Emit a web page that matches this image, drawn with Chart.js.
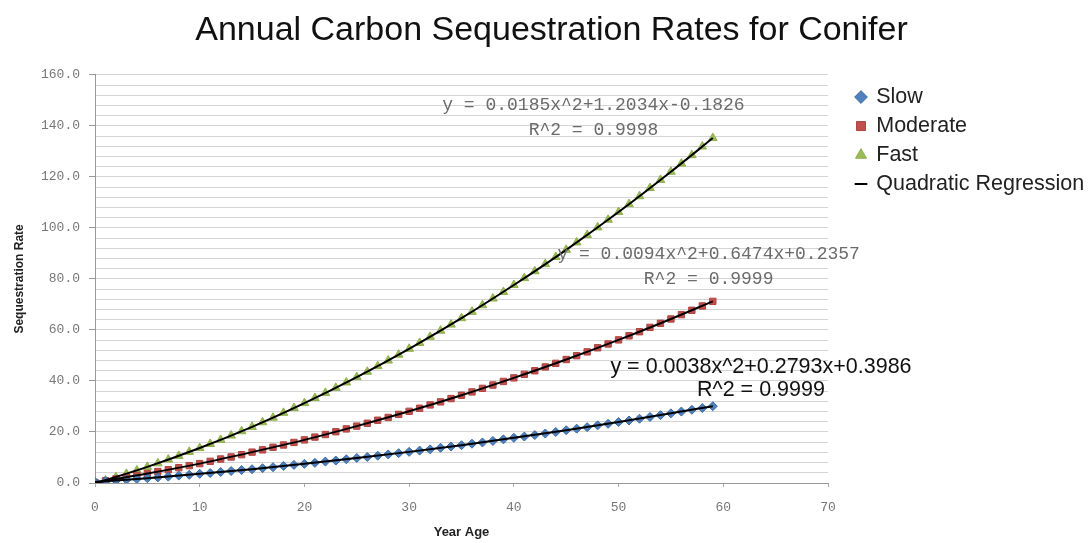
<!DOCTYPE html>
<html lang="en">
<head>
  <meta charset="UTF-8">
  <title>Annual Carbon Sequestration Rates for Conifer</title>
  <script src="https://cdn.jsdelivr.net/npm/chart.js"></script>
  <style>
    html, body { margin: 0; padding: 0; background: #fff; }
    #wrap { width: 1091px; height: 543px; }
  </style>
</head>
<body>
  <div id="wrap"><canvas id="carbonChart"></canvas></div>

  <script>
    // Year age of each sample
    const years = [0, 1, 2, 3, 4, 5, 6, 7, 8, 9, 10, 11, 12, 13, 14, 15, 16, 17, 18, 19,
      20, 21, 22, 23, 24, 25, 26, 27, 28, 29, 30, 31, 32, 33, 34, 35, 36, 37, 38, 39,
      40, 41, 42, 43, 44, 45, 46, 47, 48, 49, 50, 51, 52, 53, 54, 55, 56, 57, 58, 59];

    const slowRates = [0.4, 0.7, 1.0, 1.3, 1.6, 1.9, 2.2, 2.5, 2.9, 3.2,
      3.6, 3.9, 4.3, 4.7, 5.1, 5.4, 5.8, 6.2, 6.7, 7.1,
      7.5, 7.9, 8.4, 8.8, 9.3, 9.8, 10.2, 10.7, 11.2, 11.7,
      12.2, 12.7, 13.2, 13.8, 14.3, 14.8, 15.4, 15.9, 16.5, 17.1,
      17.7, 18.2, 18.8, 19.4, 20.0, 20.7, 21.3, 21.9, 22.6, 23.2,
      23.9, 24.5, 25.2, 25.9, 26.6, 27.3, 28.0, 28.7, 29.4, 30.1];

    const moderateRates = [0.2, 0.9, 1.6, 2.3, 3.0, 3.7, 4.5, 5.2, 6.0, 6.8,
      7.6, 8.5, 9.4, 10.2, 11.1, 12.1, 13.0, 14.0, 14.9, 15.9,
      16.9, 18.0, 19.0, 20.1, 21.2, 22.3, 23.4, 24.6, 25.7, 26.9,
      28.1, 29.3, 30.6, 31.8, 33.1, 34.4, 35.7, 37.1, 38.4, 39.8,
      41.2, 42.6, 44.0, 45.5, 46.9, 48.4, 49.9, 51.4, 53.0, 54.5,
      56.1, 57.7, 59.3, 61.0, 62.6, 64.3, 66.0, 67.7, 69.4, 71.2];

    const fastRates = [0.0, 1.0, 2.3, 3.6, 4.9, 6.3, 7.7, 9.2, 10.6, 12.2,
      13.7, 15.3, 16.9, 18.6, 20.3, 22.0, 23.8, 25.6, 27.5, 29.4,
      31.3, 33.3, 35.3, 37.3, 39.4, 41.5, 43.6, 45.8, 48.0, 50.3,
      52.6, 54.9, 57.3, 59.7, 62.1, 64.6, 67.1, 69.7, 72.3, 74.9,
      77.6, 80.3, 83.0, 85.8, 88.6, 91.4, 94.3, 97.2, 100.2, 103.2,
      106.2, 109.3, 112.4, 115.6, 118.8, 122.0, 125.2, 128.5, 131.9, 135.2];

    // Quadratic regression curves, sampled along the fit
    const fitYears = [0, 5, 10, 15, 20, 25, 30, 35, 40, 45, 50, 55, 59];
    const slowFit = [0.4, 1.9, 3.6, 5.4, 7.5, 9.8, 12.2, 14.8, 17.7, 20.7, 23.9, 27.3, 30.1];
    const moderateFit = [0.2, 3.7, 7.6, 12.1, 16.9, 22.3, 28.1, 34.4, 41.2, 48.4, 56.1, 64.3, 71.2];
    const fastFit = [-0.2, 6.3, 13.7, 22.0, 31.3, 41.5, 52.6, 64.6, 77.6, 91.4, 106.2, 122.0, 135.2];

    const yTickLabels = [0, 20, 40, 60, 80, 100, 120, 140, 160];

    const fitEquations = [
      ['y = 0.0185x^2+1.2034x-0.1826', 'R^2 = 0.9998'],
      ['y = 0.0094x^2+0.6474x+0.2357', 'R^2 = 0.9999'],
      ['y = 0.0038x^2+0.2793x+0.3986', 'R^2 = 0.9999']
    ];

    const toPoints = (xs, ys) => xs.map((x, i) => ({ x: x, y: ys[i] }));

    // where each equation sits (data units) and how it looks
    const eqPlacement = [
      { x: 47.6, y: 148.2, gap: 25, font: '18px "Liberation Mono"', color: '#6b6b6b' },
      { x: 58.6, y: 89.6, gap: 25, font: '18px "Liberation Mono"', color: '#6b6b6b' },
      { x: 63.6, y: 45.5, gap: 23, font: '21.5px "Liberation Sans"', color: '#111' }
    ];

    const equationLabels = {
      id: 'equationLabels',
      afterDatasetsDraw(chart) {
        const { ctx, scales } = chart;
        ctx.save();
        ctx.textAlign = 'center';
        ctx.textBaseline = 'middle';
        fitEquations.forEach((lines, i) => {
          const p = eqPlacement[i];
          const px = scales.x.getPixelForValue(p.x);
          const py = scales.y.getPixelForValue(p.y);
          ctx.font = p.font;
          ctx.fillStyle = p.color;
          lines.forEach((txt, j) => ctx.fillText(txt, px, py + j * p.gap));
        });
        ctx.restore();
      }
    };

    // fixed legend column, items pushed a bit away from the plot
    const legendBox = {
      id: 'legendBox',
      beforeLayout(chart) {
        const legend = chart.legend;
        if (legend && !legend._patched) {
          const fit = legend.fit;
          legend.fit = function () { fit.call(this); this.width = 263; };
          legend._patched = true;
        }
      },
      afterLayout(chart) {
        if (chart.legend) {
          chart.legend.left += 21;
          chart.legend.right += 21;
          chart.legend.top += 4;
          chart.legend.bottom += 4;
        }
      }
    };

    new Chart(document.getElementById('carbonChart'), {
      type: 'scatter',
      data: {
        datasets: [
          {
            label: 'Slow',
            data: toPoints(years, slowRates),
            pointStyle: 'rectRot',
            pointRadius: 4.5,
            backgroundColor: '#4f81bd',
            borderColor: '#3c6aa3',
            borderWidth: 1,
            order: 2
          },
          {
            label: 'Moderate',
            data: toPoints(years, moderateRates),
            pointStyle: 'rect',
            pointRadius: 4.5,
            backgroundColor: '#c0504d',
            borderColor: '#b04441',
            borderWidth: 1,
            order: 2
          },
          {
            label: 'Fast',
            data: toPoints(years, fastRates),
            pointStyle: 'triangle',
            pointRadius: 5,
            backgroundColor: '#9bbb59',
            borderColor: '#8fb04e',
            borderWidth: 1,
            order: 2
          },
          {
            label: 'Quadratic Regression',
            type: 'line',
            data: toPoints(fitYears, slowFit),
            showLine: true,
            borderColor: '#000',
            backgroundColor: '#000',
            borderWidth: 2,
            pointRadius: 0,
            pointStyle: 'line',
            cubicInterpolationMode: 'monotone',
            order: 1
          },
          {
            label: 'Quadratic Regression',
            type: 'line',
            data: toPoints(fitYears, moderateFit),
            showLine: true,
            borderColor: '#000',
            borderWidth: 2,
            pointRadius: 0,
            cubicInterpolationMode: 'monotone',
            order: 1
          },
          {
            label: 'Quadratic Regression',
            type: 'line',
            data: toPoints(fitYears, fastFit),
            showLine: true,
            borderColor: '#000',
            borderWidth: 2,
            pointRadius: 0,
            cubicInterpolationMode: 'monotone',
            order: 1
          }
        ]
      },
      options: {
        responsive: true,
        maintainAspectRatio: false,
        animation: false,
        layout: { padding: { left: 12, right: 0, top: 0, bottom: 0 } },
        plugins: {
          title: {
            display: true,
            text: 'Annual Carbon Sequestration Rates for Conifer',
            color: '#111',
            font: { family: '"Liberation Sans", Arial, sans-serif', size: 34, weight: 'normal' },
            padding: { top: 10, bottom: 24 }
          },
          legend: {
            position: 'right',
            align: 'start',
            fullSize: false,
            labels: {
              usePointStyle: true,
              boxWidth: 9,
              boxHeight: 9,
              padding: 7.5,
              color: '#222',
              font: { family: '"Liberation Sans", Arial, sans-serif', size: 21.5 },
              sort: (a, b) => a.datasetIndex - b.datasetIndex,
              filter: item => item.datasetIndex <= 3
            }
          },
          tooltip: { enabled: false }
        },
        scales: {
          x: {
            type: 'linear',
            min: 0,
            max: 70,
            afterFit: axis => { axis.height = 60; },
            ticks: {
              stepSize: 10,
              color: '#777',
              padding: 13,
              font: { family: '"Liberation Mono", monospace', size: 13 }
            },
            grid: { drawOnChartArea: false, color: '#aaa', tickLength: 4 },
            border: { color: '#999' },
            title: {
              display: true,
              text: 'Year Age',
              color: '#222',
              font: { family: '"Liberation Sans", Arial, sans-serif', size: 13, weight: 'bold' },
              padding: { top: 0, bottom: 3 }
            }
          },
          y: {
            type: 'linear',
            min: 0,
            max: 160,
            afterFit: axis => { axis.width = 83; },
            ticks: {
              stepSize: 4,
              color: '#777',
              padding: 9,
              autoSkip: false,
              font: { family: '"Liberation Mono", monospace', size: 13 },
              callback: v => yTickLabels.includes(v) ? v.toFixed(1) : ''
            },
            grid: {
              color: '#d4d4d4',
              tickLength: 6,
              tickColor: c => (c.tick && yTickLabels.includes(c.tick.value)) ? '#999' : 'transparent'
            },
            border: { color: '#999' },
            title: {
              display: true,
              text: 'Sequestration Rate',
              color: '#222',
              font: { family: '"Liberation Sans", Arial, sans-serif', size: 12, weight: 'bold' },
              padding: { top: 0, bottom: 2 }
            }
          }
        }
      },
      plugins: [equationLabels, legendBox]
    });
  </script>
</body>
</html>
